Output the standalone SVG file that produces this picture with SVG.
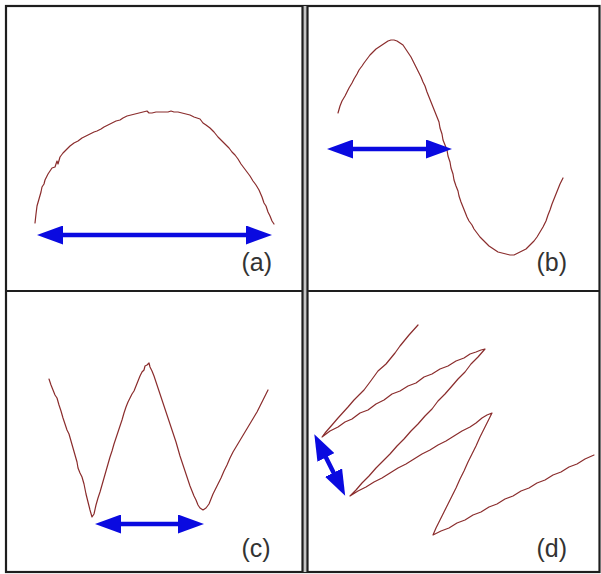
<svg xmlns="http://www.w3.org/2000/svg" width="601" height="574" viewBox="0 0 601 574">
<style>
.frame{fill:none;stroke:#1e1e1e;stroke-width:2.2}
.trace{fill:none;stroke:#8a2c2c;stroke-width:1.2;stroke-linejoin:round;stroke-linecap:round}
.arrow{fill:none;stroke:#0a0ae0;stroke-width:4.5}
.lbl{font-family:"Liberation Sans",Arial,sans-serif;font-size:25px;fill:#333}
</style>
<defs>
<marker id="head" viewBox="0 -9.5 26 19" markerWidth="26" markerHeight="19" refX="1" refY="0" orient="auto-start-reverse" markerUnits="userSpaceOnUse">
<path d="M0,-9.5 L26,0 L0,9.5 z" fill="#0a0ae0"/>
</marker>
</defs>
<rect width="601" height="574" fill="#fff"/>
<g id="frame">
<rect class="frame" x="6" y="6" width="593.5" height="566"/>
<rect x="302.5" y="6" width="5" height="566" fill="#c4c4c4"/>
<line class="frame" x1="302.5" y1="6" x2="302.5" y2="572" stroke-width="1.8"/>
<line class="frame" x1="307.5" y1="6" x2="307.5" y2="572" stroke-width="1.8"/>
<line class="frame" x1="6" y1="291" x2="302.5" y2="291" stroke-width="2.6"/>
<line class="frame" x1="307.5" y1="291" x2="599.5" y2="291" stroke-width="2.6"/>
</g>
<g id="panel-a">
<polyline class="trace" points="35,223 36,214 37,206 39,199 41,192 42,187 44,184 45,180 47,176 48,174 50,171 52,168 55,167 57,161 58,164 60,157 63,153 66,150 70,146 74,143 78,141 82,138 86,136 90,134 94,132 97,131 101,129 104,127 108,125 112,123 116,121 120,120 123,118 127,116 131,115 135,114 139,113 143,112 147,111 149,113 152,113 156,112 160,112 164,112 168,112 171,111 174,112 178,112 182,113 186,114 190,115 194,117 197,118 200,119 203,123 206,125 210,128 214,132 218,137 222,141 226,145 229,148 232,152 235,155 238,159 241,164 244,168 247,172 250,176 253,181 256,185 259,190 262,197 264,203 266,206 268,212 270,216 272,221 274,224"/>
<text class="lbl" x="241.5" y="271">(a)</text>
</g>
<g id="panel-b">
<polyline class="trace" points="338,113 340,106 342,101 345,96 347,92 349,88 352,83 354,79 357,74 359,70 362,66 364,63 367,59 370,55 373,52 376,49 379,47 382,45 385,43 388,41 391,40 394,40 397,41 400,43 403,45 405,48 407,51 409,54 411,57 413,61 415,65 417,69 419,73 421,77 423,82 425,86 427,92 429,97 431,102 433,107 435,112 437,117 439,122 440,128 442,134 443,140 445,145 447,150 448,156 450,162 451,168 453,174 454,180 456,186 458,191 459,196 461,202 463,207 465,212 467,217 469,221 472,225 474,229 477,233 480,237 483,240 486,243 489,246 492,248 495,250 498,252 502,253 506,254 510,255 514,255 518,253 522,251 526,249 530,245 534,241 537,237 540,232 543,227 546,221 548,215 550,210 552,204 554,199 556,194 558,189 560,184 563,178"/>
<text class="lbl" x="536.5" y="271">(b)</text>
</g>
<g id="panel-c">
<polyline class="trace" points="49,379 51,385 53,390 55,395 57,398 59,405 61,411 63,418 65,424 67,430 69,434 71,441 73,448 75,455 77,462 78,468 80,473 82,477 84,484 85,489 86,494 88,502 90,510 92,517 94,514 96,505 98,498 100,492 102,485 104,478 106,471 108,464 110,457 112,451 114,444 116,438 118,432 120,426 122,420 124,413 126,407 128,402 130,398 132,394 134,391 136,386 138,381 140,376 142,372 144,370 145,366 147,365 149,363 150,367 152,371 154,376 156,382 158,388 160,394 162,400 164,406 166,412 168,418 170,424 172,430 174,436 176,442 178,449 180,456 182,462 184,468 186,474 188,480 190,486 192,491 194,496 196,500 198,505 200,508 203,510 206,508 209,504 211,499 213,494 215,490 218,484 221,478 224,471 227,465 230,458 233,452 236,447 239,442 242,437 245,432 248,427 251,422 254,417 257,412 260,406 263,400 266,394 268,390"/>
<text class="lbl" x="241.5" y="556.5">(c)</text>
</g>
<g id="panel-d">
<polyline class="trace" points="418,325 409,335 400,346 395,353 386,364 378,371 370,382 364,390 354,400 348,407 338,418 332,425 325,433 322,437 330,431 338,427 345,422 352,419 360,413 368,410 376,404 384,400 392,394 400,391 408,386 416,383 424,377 432,374 440,369 448,366 456,361 464,358 470,354 476,352 481,350 485,349 478,357 471,364 465,372 458,379 452,386 445,394 438,401 432,409 425,416 418,424 411,431 404,439 397,446 390,454 383,461 376,468 369,476 362,483 356,490 350,496 358,491 366,487 374,482 382,478 390,473 398,468 406,464 414,459 422,454 430,450 438,445 446,441 454,436 462,431 470,427 476,423 482,418 487,415 492,413 488,421 484,429 480,437 476,446 472,454 468,462 464,471 460,479 456,488 452,496 448,504 444,512 440,520 436,528 433,535 441,531 449,528 457,523 465,520 473,515 481,512 489,507 497,504 505,499 513,496 521,491 529,488 537,483 545,480 553,475 561,472 569,467 577,464 585,459 594,455"/>
<text class="lbl" x="536.5" y="556.5">(d)</text>
</g>
<g id="arrows">
<line class="arrow" x1="62" y1="235" x2="247" y2="235" marker-start="url(#head)" marker-end="url(#head)"/>
<line class="arrow" x1="352" y1="149" x2="427" y2="149" marker-start="url(#head)" marker-end="url(#head)"/>
<line class="arrow" x1="120" y1="524" x2="179" y2="524" marker-start="url(#head)" marker-end="url(#head)"/>
<line class="arrow" x1="325.5" y1="456.5" x2="334" y2="473.5" marker-start="url(#head)" marker-end="url(#head)"/>
</g>
</svg>
